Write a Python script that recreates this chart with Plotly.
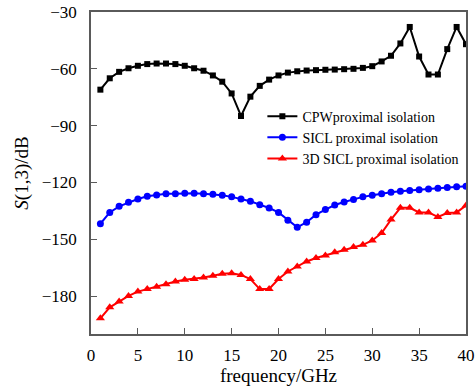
import plotly.graph_objects as go

freq = list(range(1, 41))

cpw = [-71, -65, -61.6, -59.7, -58.4, -57.5, -57.2, -57.2, -57.5, -58.4,
       -59.7, -61, -63.5, -66.8, -73, -84.9, -74.7, -69, -65.7, -63.5,
       -62, -61.3, -60.9, -60.7, -60.5, -60.4, -60.2, -60, -59.5, -58.6,
       -56.1, -53.1, -46.6, -37.9, -53.5, -63, -63, -49.6, -37.9, -47]

sicl = [-141.8, -135.8, -132.6, -130.5, -128.7, -127.3, -126.6, -126, -125.9, -125.7,
        -125.7, -125.9, -126.2, -126.8, -127.6, -128.7, -129.9, -131.7, -133.5, -135.8,
        -140, -143.7, -141, -137, -134.3, -131.9, -130.3, -129, -127.6, -126.8,
        -125.9, -125.2, -124.6, -124.3, -123.8, -123.4, -123, -122.6, -122.3, -122]

sicl3d = [-191.7, -185.9, -182.9, -179.9, -177.6, -176.2, -175, -173.7, -172.3, -171.4,
          -171, -170.2, -169.3, -168.2, -167.9, -168.8, -171, -176.3, -176.2, -171,
          -167, -164.4, -161.7, -159.9, -158.5, -156.9, -155.5, -154.1, -152.9, -150.6,
          -146.7, -139.6, -133.4, -133.4, -135.8, -135.8, -138.2, -136.1, -135.8, -132.2]

names = ["CPWproximal isolation", "SICL proximal isolation", "3D SICL proximal isolation"]
xticks = [0, 5, 10, 15, 20, 25, 30, 35, 40]
yticks = [-180, -150, -120, -90, -60, -30]

FONT = "Liberation Serif, Times New Roman, serif"

fig = go.Figure()
fig.add_trace(go.Scatter(x=freq, y=cpw, name=names[0], mode="lines+markers",
                         line=dict(color="#000000", width=2),
                         marker=dict(symbol="square", size=6, color="#000000")))
fig.add_trace(go.Scatter(x=freq, y=sicl, name=names[1], mode="lines+markers",
                         line=dict(color="#0000ff", width=2),
                         marker=dict(symbol="circle", size=7, color="#0000ff")))
fig.add_trace(go.Scatter(x=freq, y=sicl3d, name=names[2], mode="lines+markers",
                         line=dict(color="#ff0000", width=2),
                         marker=dict(symbol="triangle-up", size=8, color="#ff0000")))

axis_common = dict(showgrid=False, zeroline=False, showline=True, mirror=True,
                   automargin=False, ticklabeloverflow="allow",
                   linecolor="#5a5a5a", linewidth=1.5, ticks="inside", ticklen=6,
                   tickwidth=1.2, tickcolor="#5a5a5a",
                   tickfont=dict(family=FONT, size=17, color="#000000"))

fig.update_layout(
    width=475, height=390,
    margin=dict(l=91, r=9, t=12, b=56, autoexpand=False),
    paper_bgcolor="white", plot_bgcolor="white",
    font=dict(family=FONT, color="#000000"),
    xaxis=dict(range=[0, 40], tickvals=xticks, ticklabelstandoff=5,
               **axis_common,
               title=dict(text="frequency/GHz", font=dict(family=FONT, size=19), standoff=4)),
    yaxis=dict(range=[-200, -30], tickvals=yticks, ticklabelstandoff=9, **axis_common,
               title=dict(text="<i>S</i>(1,3)/dB", font=dict(family=FONT, size=19), standoff=8)),
    legend=dict(x=0.457, y=0.725, xanchor="left", yanchor="top",
                bgcolor="rgba(0,0,0,0)", font=dict(family=FONT, size=14),
                tracegroupgap=0, itemwidth=30),
    showlegend=True,
)

fig.write_html("out.html")
